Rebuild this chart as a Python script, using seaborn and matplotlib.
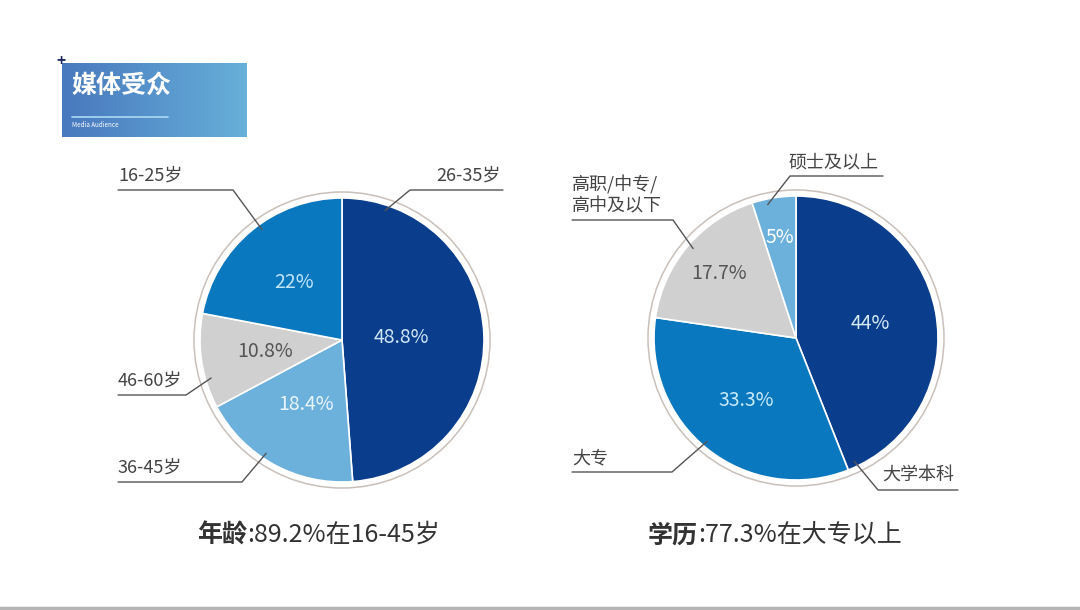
import numpy as np
import matplotlib
matplotlib.use('Agg')
import matplotlib.pyplot as plt
import seaborn as sns
from matplotlib.patches import Circle

sns.set_theme(style='white')
plt.rcParams['font.family'] = ['Noto Sans CJK SC', 'DejaVu Sans']

# data
age_labels = ['26-35岁', '36-45岁', '46-60岁', '16-25岁']
age_values = [48.8, 18.4, 10.8, 22]
edu_labels = ['大学本科', '大专', '高职/中专/\n高中及以下', '硕士及以上']
edu_values = [44, 33.3, 17.7, 5]

title = '媒体受众'
subtitle = 'Media Audience'
age_note = ('年龄', ':89.2%在16-45岁')
edu_note = ('学历', ':77.3%在大专以上')

DARK, MID, LIGHT, GRAY = '#0a3e8c', '#0a78bf', '#6cb0dc', '#d0d0d0'
age_colors = [DARK, LIGHT, GRAY, MID]
edu_colors = [DARK, MID, GRAY, LIGHT]
age_pct_colors = ['#cfe4f6', '#eaf5fb', '#555555', '#c0e5f8']
edu_pct_colors = ['#d8ecf8', '#c8eafa', '#555555', '#ffffff']

W, H = 1080, 610
fig = plt.figure(figsize=(W / 100, H / 100), dpi=100)
ax = fig.add_axes([0, 0, 1, 1])


def Y(y):
    # image row -> data y
    return H - y


def draw_pie(cx, cy, R, values, colors, pct_colors, pct_dist, labels, lab_layout):
    wedges, _ = ax.pie(values, colors=colors, startangle=90, counterclock=False,
                       center=(cx, Y(cy)), radius=R,
                       wedgeprops=dict(edgecolor='white', linewidth=1.2))
    ax.add_patch(Circle((cx, Y(cy)), R + 6, fill=False, edgecolor='#c9c0ba', lw=1.1))
    for w, v, c, d in zip(wedges, values, pct_colors, pct_dist):
        a = np.deg2rad((w.theta1 + w.theta2) / 2)
        ax.text(cx + d * R * np.cos(a), Y(cy) + d * R * np.sin(a), f'{v:g}%',
                color=c, fontsize=14, ha='center', va='center')
    for lab, (tx, ty, ha, x0, x1, ly, elbow_x, ang) in zip(labels, lab_layout):
        a = np.deg2rad(ang)
        tip = (cx + 0.96 * R * np.cos(a), Y(cy) + 0.96 * R * np.sin(a))
        if elbow_x == x0:
            xs, ys = [x1, x0, tip[0]], [Y(ly), Y(ly), tip[1]]
        else:
            xs, ys = [x0, x1, tip[0]], [Y(ly), Y(ly), tip[1]]
        ax.plot(xs, ys, color='#555555', lw=1)
        ax.text(tx, Y(ty), lab, ha=ha, va='bottom', fontsize=13, color='#444444',
                linespacing=1.2)


# left pie: age
draw_pie(342, 340, 142, age_values, age_colors, age_pct_colors,
         [0.42, 0.52, 0.55, 0.53], age_labels,
         [(501, 185, 'right', 410, 503, 190, 410, 71.6),
          (118, 477, 'left', 118, 242, 482, 242, 236.2),
          (118, 390, 'left', 118, 186, 395, 186, 196.2),
          (118, 185, 'left', 118, 233, 190, 233, 125.9)])

# right pie: education
draw_pie(796, 338, 142, edu_values, edu_colors, edu_pct_colors,
         [0.53, 0.56, 0.71, 0.72], edu_labels,
         [(882, 484, 'left', 878, 958, 490, 878, -64.7),
          (572, 467, 'left', 572, 672, 472, 672, 229.3),
          (572, 215, 'left', 572, 673, 220, 673, 139.0),
          (788, 171, 'left', 790, 883, 176, 790, 102.0)])

# header box with gradient
grad = sns.blend_palette(['#4878be', '#67b0d9'], n_colors=64, as_cmap=True)
ax.imshow(np.linspace(0, 1, 256).reshape(1, -1), cmap=grad, aspect='auto',
          extent=(62, 247, Y(137), Y(63)), zorder=1)
ax.text(71, Y(86), title, color='white', fontsize=18, fontweight='bold',
        va='center', ha='left', zorder=3)
ax.plot([72, 168], [Y(117), Y(117)], color='#a9dbf5', lw=1.2, zorder=3)
ax.text(72, Y(125), subtitle, color='white', fontsize=4.5, va='center', zorder=3)
ax.text(61, Y(61), '+', color='#1a2a5a', fontsize=11, fontweight='bold',
        ha='center', va='center', zorder=4)

# bottom notes
for x, (bold, rest) in [(197, age_note), (648, edu_note)]:
    t = ax.text(x, Y(548), bold, fontsize=18, fontweight='bold', color='#333333',
                va='bottom')
    ax.annotate(rest, xy=(1, 0), xycoords=t, va='bottom', ha='left',
                fontsize=18, color='#333333')

ax.plot([0, W], [Y(608), Y(608)], color='#b5b5b5', lw=2.5)

ax.set_xlim(0, W)
ax.set_ylim(0, H)
ax.set_aspect('auto')
ax.axis('off')

fig.savefig('out.png', dpi=100, facecolor='white')
